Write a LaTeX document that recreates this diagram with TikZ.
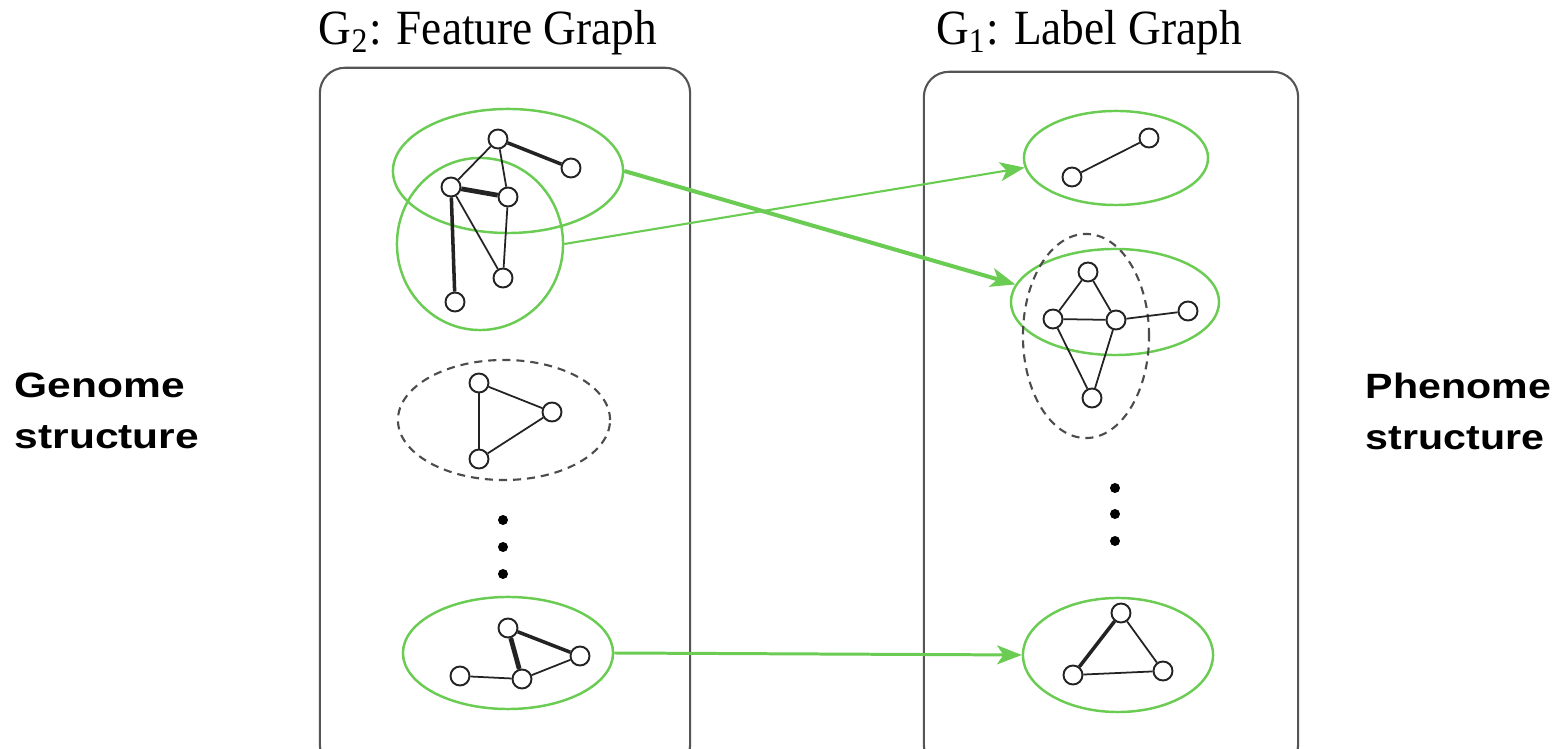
\documentclass[tikz,border=0pt]{standalone}
\usepackage{fontspec}
\setmainfont{Liberation Serif}
\newfontfamily\lblfont{Liberation Sans}
\usetikzlibrary{shapes.geometric,arrows.meta}
\definecolor{grn}{RGB}{106,204,82}
\definecolor{edgegray}{RGB}{35,35,35}
\definecolor{boxgray}{RGB}{85,85,85}
\begin{document}
\begin{tikzpicture}[x=0.01cm,y=-0.01cm,
  vtx/.style={circle,draw=edgegray,fill=white,line width=0.55pt,minimum size=0.19cm,inner sep=0},
  ed/.style={draw=edgegray,line width=0.5pt},
  edk/.style={draw=edgegray,line width=1.0pt},
  edkk/.style={draw=edgegray,line width=1.35pt},
  grp/.style={ellipse,draw=grn,line width=0.7pt,inner sep=0},
  dgrp/.style={ellipse,draw=black!70,dash pattern=on 2.3pt off 1.7pt,line width=0.6pt,inner sep=0},
  arr/.style={draw=grn,-{Stealth[length=7pt,width=5.4pt,inset=1.8pt]}},
  frame/.style={draw=boxgray,line width=0.6pt,rounded corners=0.25cm,inner sep=0},
  dotnode/.style={circle,fill=black,minimum size=0.1cm,inner sep=0},
  ttl/.style={font=\fontsize{14}{16}\selectfont,inner sep=0,anchor=base},
  side/.style={font=\lblfont\bfseries\fontsize{10}{14.5}\selectfont,inner sep=0,align=left,anchor=west}
]
\clip (0,0) rectangle (1562,749);
\fill[white] (0,0) rectangle (1562,749);

% frames
\node[frame,minimum width=3.70cm,minimum height=7.02cm] (lbox) at (505,419) {};
\node[frame,minimum width=3.74cm,minimum height=6.98cm] (rbox) at (1111,421) {};

% titles
\node[ttl] (t2) at (488,45) {\scalebox{0.92}[1]{G\textsubscript{2}: Feature Graph}};
\node[ttl] (t1) at (1089,45) {\scalebox{0.92}[1]{G\textsubscript{1}: Label Graph}};

% side labels
\node[side] (gen) at (14,411) {\scalebox{1.21}[1]{Genome}\\\scalebox{1.21}[1]{structure}};
\node[side] (phe) at (1365,411) {\scalebox{1.17}[1]{Phenome}\\\scalebox{1.17}[1]{structure}};

% group ellipses
\node[grp,minimum width=2.30cm,minimum height=1.24cm] (eA) at (508,171) {};
\node[grp,minimum width=1.66cm,minimum height=1.72cm] (eB) at (480,244) {};
\node[dgrp,minimum width=2.12cm,minimum height=1.20cm] (eC) at (504,420) {};
\node[grp,minimum width=2.10cm,minimum height=1.12cm] (eD) at (508,653) {};
\node[grp,minimum width=1.84cm,minimum height=0.94cm] (eE) at (1116,158) {};
\node[grp,minimum width=2.08cm,minimum height=1.06cm] (eF) at (1115,302) {};
\node[dgrp,minimum width=1.26cm,minimum height=2.04cm] (eG) at (1086,336) {};
\node[grp,minimum width=1.90cm,minimum height=1.14cm] (eH) at (1118,655) {};

% left top cluster
\node[vtx] (a1) at (498,139) {};
\node[vtx] (a2) at (571,168) {};
\node[vtx] (a3) at (451,187) {};
\node[vtx] (a4) at (508,197) {};
\node[vtx] (a5) at (503,278) {};
\node[vtx] (a6) at (455,302) {};
\draw[edk] (a1) -- (a2);
\draw[ed] (a1) -- (a3);
\draw[ed] (a1) -- (a4);
\draw[edkk] (a3) -- (a4);
\draw[edk] (a3) -- (a6);
\draw[ed] (a3) -- (a5);
\draw[ed] (a4) -- (a5);

% left dashed cluster
\node[vtx] (c1) at (479,383) {};
\node[vtx] (c2) at (552,412) {};
\node[vtx] (c3) at (479,459) {};
\draw[ed] (c1) -- (c2);
\draw[ed] (c2) -- (c3);
\draw[ed] (c1) -- (c3);

% dots
\node[dotnode] (ld1) at (503,520) {};
\node[dotnode] (ld2) at (503,547) {};
\node[dotnode] (ld3) at (503,574) {};
\node[dotnode] (rd1) at (1115,488) {};
\node[dotnode] (rd2) at (1115,514) {};
\node[dotnode] (rd3) at (1115,541) {};

% left bottom cluster
\node[vtx] (d1) at (508,628) {};
\node[vtx] (d2) at (580,656) {};
\node[vtx] (d3) at (460,676) {};
\node[vtx] (d4) at (522,679) {};
\draw[edk] (d1) -- (d2);
\draw[edkk] (d1) -- (d4);
\draw[ed] (d4) -- (d2);
\draw[ed] (d3) -- (d4);

% right top cluster
\node[vtx] (e1) at (1072,177) {};
\node[vtx] (e2) at (1149,138) {};
\draw[ed] (e1) -- (e2);

% right middle cluster
\node[vtx] (f1) at (1088,272) {};
\node[vtx] (f2) at (1053,319) {};
\node[vtx] (f3) at (1116,320) {};
\node[vtx] (f4) at (1188,311) {};
\node[vtx] (f5) at (1092,398) {};
\draw[ed] (f1) -- (f2);
\draw[ed] (f1) -- (f3);
\draw[ed] (f2) -- (f3);
\draw[ed] (f3) -- (f4);
\draw[ed] (f2) -- (f5);
\draw[ed] (f3) -- (f5);

% right bottom cluster
\node[vtx] (g1) at (1121,613) {};
\node[vtx] (g2) at (1073,675) {};
\node[vtx] (g3) at (1163,671) {};
\draw[edk] (g1) -- (g2);
\draw[ed] (g1) -- (g3);
\draw[ed] (g2) -- (g3);

% mapping arrows
\draw[arr,line width=1.15pt] (eA.east) -- (eF.170);
\draw[arr,line width=0.6pt] (eB.east) -- (eE.186);
\draw[arr,line width=0.85pt] (eD.east) -- (eH.west);
\end{tikzpicture}
\end{document}
